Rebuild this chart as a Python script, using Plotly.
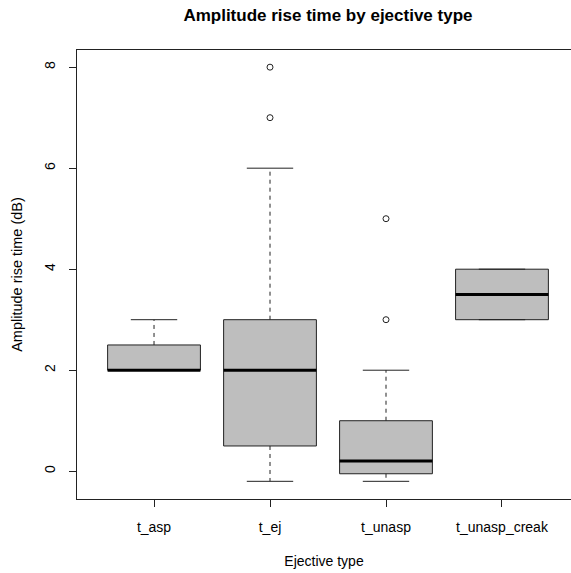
import plotly.graph_objects as go

categories = ["t_asp", "t_ej", "t_unasp", "t_unasp_creak"]
q1 = [2.0, 0.5, -0.05, 3.0]
median = [2.0, 2.0, 0.2, 3.5]
q3 = [2.5, 3.0, 1.0, 4.0]
lower_whisker = [2.0, -0.2, -0.2, 3.0]
upper_whisker = [3.0, 6.0, 2.0, 4.0]
outliers = [[], [7.0, 8.0], [3.0, 5.0], []]
y_ticks = [0, 2, 4, 6, 8]

BOXW = 0.8
CAPW = 0.4
FONT = "Liberation Sans, Arial, sans-serif"
LINE = "#222222"

fig = go.Figure()
for i, cat in enumerate(categories):
    x = i + 1
    # whiskers (dashed)
    fig.add_trace(go.Scatter(x=[x, x], y=[q3[i], upper_whisker[i]], mode="lines",
                             line=dict(color=LINE, width=1, dash="4px,4px"), hoverinfo="skip"))
    fig.add_trace(go.Scatter(x=[x, x], y=[q1[i], lower_whisker[i]], mode="lines",
                             line=dict(color=LINE, width=1, dash="4px,4px"), hoverinfo="skip"))
    # caps
    for w in (upper_whisker[i], lower_whisker[i]):
        fig.add_trace(go.Scatter(x=[x - CAPW / 2, x + CAPW / 2], y=[w, w], mode="lines",
                                 line=dict(color=LINE, width=1), hoverinfo="skip"))
    # box
    fig.add_trace(go.Bar(x=[x], base=[q1[i]], y=[q3[i] - q1[i]], width=BOXW,
                         marker=dict(color="#BEBEBE", line=dict(color=LINE, width=1)),
                         hoverinfo="skip"))
    # median
    fig.add_trace(go.Scatter(x=[x - BOXW / 2, x + BOXW / 2], y=[median[i], median[i]], mode="lines",
                             line=dict(color="black", width=3), hoverinfo="skip"))
    # outliers
    if outliers[i]:
        fig.add_trace(go.Scatter(x=[x] * len(outliers[i]), y=outliers[i], mode="markers",
                                 marker=dict(symbol="circle-open", size=6, color=LINE,
                                             line=dict(width=1, color=LINE)),
                                 hoverinfo="skip"))

fig.update_layout(
    width=571, height=573,
    margin=dict(l=77, r=0, t=50, b=74),
    paper_bgcolor="white", plot_bgcolor="white",
    showlegend=False, barmode="overlay",
    font=dict(family=FONT, size=14, color="black"),
    title=dict(text="<b>Amplitude rise time by ejective type</b>", x=0.508, xref="paper",
               xanchor="center", y=1 - 15 / 573, yanchor="middle",
               font=dict(family=FONT, size=17, color="black")),
)
fig.update_xaxes(
    range=[0.336, 4.595], tickmode="array", tickvals=[1, 2, 3, 4], ticktext=categories,
    showline=True, linecolor=LINE, linewidth=1, mirror=True,
    ticks="outside", ticklen=7, tickcolor=LINE, showgrid=False, zeroline=False,
    ticklabelstandoff=8,
    title=dict(text="Ejective type", standoff=22, font=dict(size=14)),
)
fig.update_yaxes(
    range=[-0.55, 8.34], tickmode="array", tickvals=y_ticks, ticktext=[str(t) for t in y_ticks],
    tickangle=-90,
    showline=True, linecolor=LINE, linewidth=1, mirror=False,
    ticks="outside", ticklen=7, tickcolor=LINE, showgrid=False, zeroline=False,
    ticklabelstandoff=8,
    title=dict(text="Amplitude rise time (dB)", standoff=16, font=dict(size=14.5)),
)
fig.write_html("out.html")
